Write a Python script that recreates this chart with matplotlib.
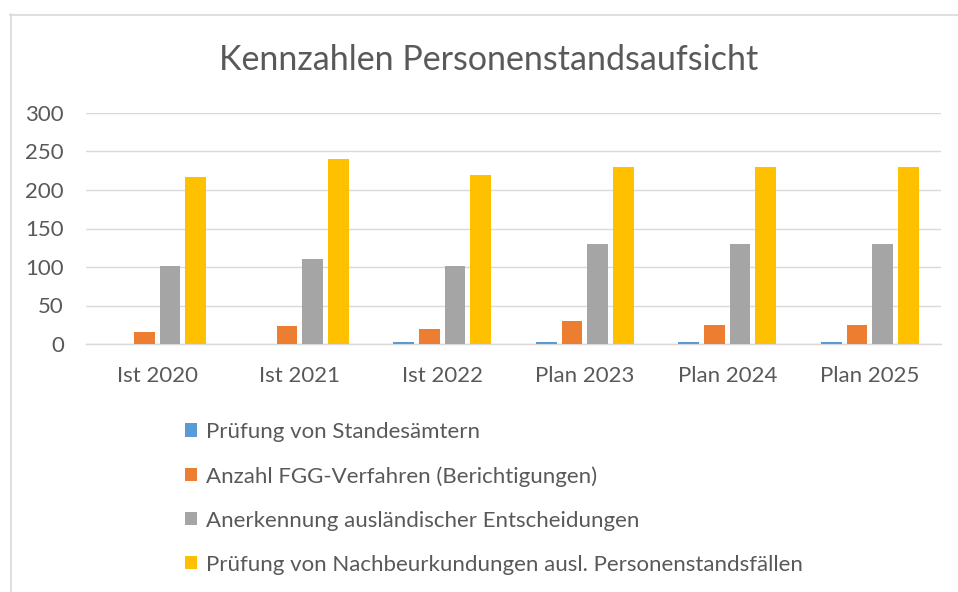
import matplotlib.pyplot as plt
from matplotlib.lines import Line2D
import numpy as np

plt.rcParams['font.family'] = ['Lato', 'DejaVu Sans']

categories = ['Ist 2020', 'Ist 2021', 'Ist 2022', 'Plan 2023', 'Plan 2024', 'Plan 2025']
pruefung_standesaemter = [0, 0, 3, 3, 3, 3]
fgg_verfahren = [15, 23, 20, 30, 25, 25]
anerkennung = [101, 111, 101, 130, 130, 130]
nachbeurkundungen = [217, 240, 220, 230, 230, 230]

series_names = [
    'Prüfung von Standesämtern',
    'Anzahl FGG-Verfahren (Berichtigungen)',
    'Anerkennung ausländischer Entscheidungen',
    'Prüfung von Nachbeurkundungen ausl. Personenstandsfällen',
]
colors = ['#5B9BD5', '#ED7D31', '#A5A5A5', '#FFC000']
text_color = '#595959'

fig = plt.figure(figsize=(9.58, 5.92), dpi=100)
ax = fig.add_axes([86 / 958, 1 - 344 / 592, 855 / 958, 231 / 592])

x = np.arange(len(categories))
offsets = [-0.27, -0.09, 0.09, 0.27]
all_series = [pruefung_standesaemter, fgg_verfahren, anerkennung, nachbeurkundungen]
for vals, off, col, name in zip(all_series, offsets, colors, series_names):
    ax.bar(x + off, vals, width=0.145, color=col, label=name, zorder=3)

ax.set_xlim(-0.5, len(categories) - 0.5)
ax.set_ylim(0, 300)
ax.set_yticks(range(0, 301, 50))
ax.set_xticks(x)
ax.set_xticklabels(categories)
ax.tick_params(axis='both', length=0, labelsize=16, labelcolor=text_color)
ax.tick_params(axis='y', pad=16)
ax.tick_params(axis='x', pad=16)
ax.grid(axis='y', color='#D9D9D9', linewidth=1.0, zorder=0)
for s in ['top', 'right', 'left']:
    ax.spines[s].set_visible(False)
ax.spines['bottom'].set_color('#D9D9D9')
ax.spines['bottom'].set_linewidth(1.0)

fig.text(489 / 958, 1 - 60 / 592, 'Kennzahlen Personenstandsaufsicht',
         ha='center', va='center', fontsize=24.5, color=text_color)

fig.legend(loc='upper left', bbox_to_anchor=(165 / 958, 1 - 402 / 592),
           frameon=False, fontsize=16, labelcolor=text_color,
           handlelength=0.55, handleheight=0.55, handletextpad=0.38,
           labelspacing=1.08)

# chart border (only left and top edges visible in the crop)
fig.add_artist(Line2D([10.5 / 958, 10.5 / 958], [0, 1 - 14 / 592],
                      color='#D9D9D9', linewidth=1.2, transform=fig.transFigure))
fig.add_artist(Line2D([10 / 958, 1], [1 - 14.5 / 592, 1 - 14.5 / 592],
                      color='#D9D9D9', linewidth=1.2, transform=fig.transFigure))

fig.savefig('out.png', dpi=100)
